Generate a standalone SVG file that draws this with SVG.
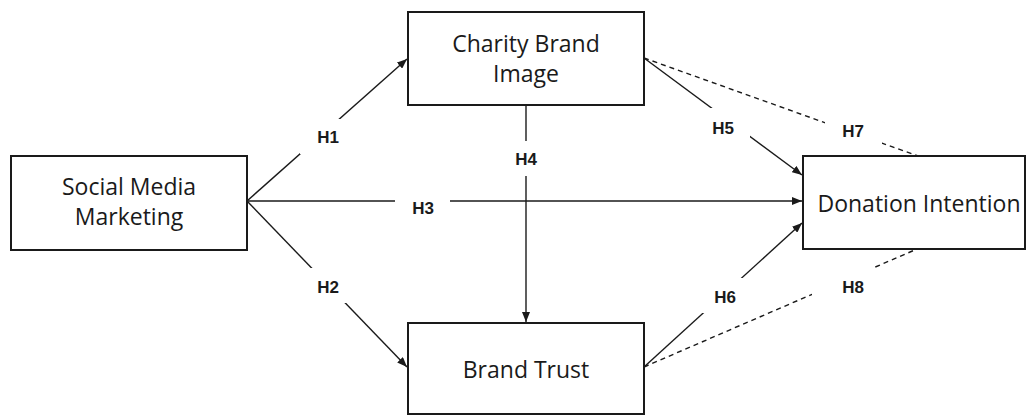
<svg xmlns="http://www.w3.org/2000/svg" width="1027" height="415" viewBox="0 0 1027 415">
<style>
.box{fill:#fff;stroke:#1a1a1a;stroke-width:2}
.nt{font-family:"Open Sans","Liberation Sans",sans-serif;font-size:23px;fill:#1a1a1a;text-anchor:middle}
.ln{stroke:#1a1a1a;stroke-width:1.4;fill:none}
.ds{stroke:#1a1a1a;stroke-width:1.4;fill:none;stroke-dasharray:5 4}
.lb{fill:#fff}
.lt{font-family:"Liberation Sans",Arial,sans-serif;font-size:17px;font-weight:bold;fill:#1a1a1a;text-anchor:middle}
</style>
<defs>
<marker id="arr" markerUnits="userSpaceOnUse" markerWidth="10" markerHeight="8" refX="10" refY="4" orient="auto">
<path d="M0,0 L10,4 L0,8 z" fill="#1a1a1a"/>
</marker>
</defs>
<rect width="1027" height="415" fill="#fff"/>
<g id="connectors">
<line class="ln" x1="247" y1="201" x2="407" y2="59" marker-end="url(#arr)"/>
<line class="ln" x1="247" y1="201" x2="407" y2="367" marker-end="url(#arr)"/>
<line class="ln" x1="247" y1="201" x2="802" y2="201" marker-end="url(#arr)"/>
<line class="ln" x1="526" y1="105" x2="526" y2="322" marker-end="url(#arr)"/>
<line class="ln" x1="644" y1="58" x2="802" y2="175" marker-end="url(#arr)"/>
<line class="ln" x1="644" y1="367" x2="802" y2="223" marker-end="url(#arr)"/>
<line class="ds" x1="644" y1="58" x2="918" y2="156"/>
<line class="ds" x1="644" y1="367" x2="917" y2="249"/>
<g id="labels">
<rect class="lb" x="300" y="119" width="55" height="35"/>
<text class="lt" x="328" y="143">H1</text>
<rect class="lb" x="300" y="268" width="55" height="35"/>
<text class="lt" x="328" y="293">H2</text>
<rect class="lb" x="395" y="191" width="55" height="35"/>
<text class="lt" x="423" y="214">H3</text>
<rect class="lb" x="498" y="141" width="55" height="35"/>
<text class="lt" x="526" y="165">H4</text>
<rect class="lb" x="695" y="108" width="55" height="34"/>
<text class="lt" x="723" y="134">H5</text>
<rect class="lb" x="697" y="278" width="55" height="35"/>
<text class="lt" x="725" y="303">H6</text>
<rect class="lb" x="825" y="113" width="57" height="34"/>
<text class="lt" x="853" y="137">H7</text>
<rect class="lb" x="812" y="268" width="80" height="34"/>
<text class="lt" x="853" y="293">H8</text>
</g>
</g>
<g id="smm">
<rect class="box" x="11" y="156" width="236" height="94"/>
<text class="nt" x="129" y="195">Social Media</text>
<text class="nt" x="129" y="225">Marketing</text>
</g>
<g id="cbi">
<rect class="box" x="408" y="12" width="236" height="93"/>
<text class="nt" x="526" y="52">Charity Brand</text>
<text class="nt" x="526" y="82">Image</text>
</g>
<g id="bt">
<rect class="box" x="408" y="323" width="236" height="91"/>
<text class="nt" x="526" y="378">Brand Trust</text>
</g>
<g id="di">
<rect class="box" x="803" y="156" width="222" height="93"/>
<text class="nt" x="919" y="212">Donation Intention</text>
</g>
</svg>
